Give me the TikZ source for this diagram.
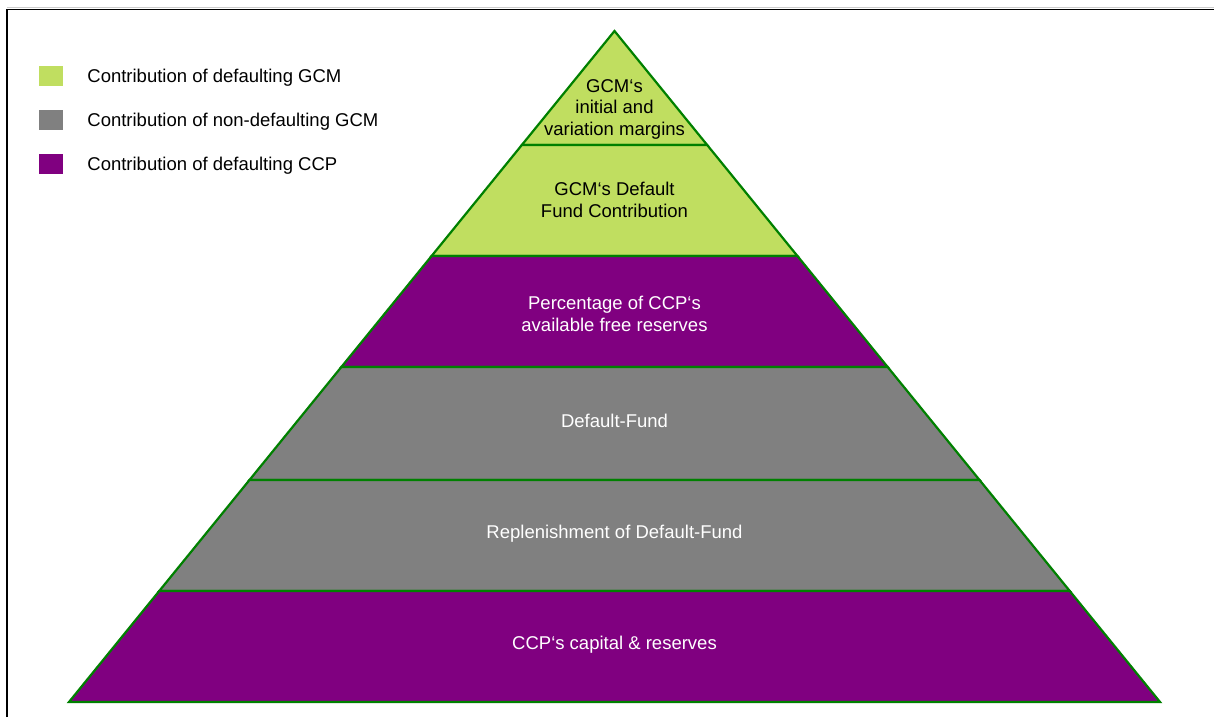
\documentclass[tikz,border=0pt]{standalone}
\usepackage{fontspec}
\setmainfont{Liberation Sans}
\usepackage{tikz}
\usetikzlibrary{calc,positioning}
\definecolor{gcmgreen}{HTML}{C0DE60}
\definecolor{nongray}{HTML}{808080}
\definecolor{ccppurple}{HTML}{800080}
\definecolor{edgegreen}{HTML}{008000}

\begin{document}
\begin{tikzpicture}[x=1pt,y=-1pt,
  layer/.style={draw=edgegreen,line width=2.2pt,line join=miter},
  lbl/.style={font=\fontsize{18.5}{21.5}\selectfont,align=center,inner sep=0pt},
  key/.style={minimum width=24pt,minimum height=20pt,inner sep=0pt},
  keytext/.style={font=\fontsize{18.5}{21.5}\selectfont,inner sep=0pt}]
  \useasboundingbox (0,0) rectangle (1214,717);
  % frame
  \draw[gray!40,line width=1pt] (7,7.5) -- (1214,7.5);
  \draw[line width=1.8pt] (7,717) -- (7,9.5) -- (1214,9.5);
  % pyramid corners
  \coordinate (apex) at (614.5,31);
  \coordinate (bl) at (69,702);
  \coordinate (br) at (1160,702);
  \foreach \t [count=\i from 0] in {0,0.1699,0.3353,0.5007,0.6692,0.8346,1} {
    \coordinate (l\i) at ($(apex)!\t!(bl)$);
    \coordinate (r\i) at ($(apex)!\t!(br)$);
  }
  % layers, top to bottom
  \foreach \i/\c in {1/gcmgreen,2/gcmgreen,3/ccppurple,4/nongray,5/nongray,6/ccppurple} {
    \pgfmathtruncatemacro\j{\i-1}
    \draw[layer,fill=\c] (l\j) -- (r\j) -- (r\i) -- (l\i) -- cycle;
  }
  \node[lbl] (margins) at (614.5,109) {GCM‘s\\initial and\\variation margins};
  \node[lbl] (dfshare) at (614.5,200) {GCM‘s Default\\Fund Contribution};
  \node[lbl,white] (freeres) at (614.5,314) {Percentage of CCP‘s\\available free reserves};
  \node[lbl,white] (dfund) at (614.5,421) {Default-Fund};
  \node[lbl,white] (replen) at (614.5,534) {Replenishment of Default-Fund};
  \node[lbl,white] (capital) at (614.5,645) {CCP‘s capital \& reserves};
  % legend
  \node[key,fill=gcmgreen] (k1) at (51,76) {};
  \node[key,fill=nongray] (k2) at (51,120) {};
  \node[key,fill=ccppurple] (k3) at (51,164) {};
  \node[keytext,right=24pt of k1,yshift=-1.5pt] (t1) {Contribution of defaulting GCM};
  \node[keytext,right=24pt of k2,yshift=-1.5pt] (t2) {Contribution of non-defaulting GCM};
  \node[keytext,right=24pt of k3,yshift=-1.5pt] (t3) {Contribution of defaulting CCP};
\end{tikzpicture}
\end{document}
